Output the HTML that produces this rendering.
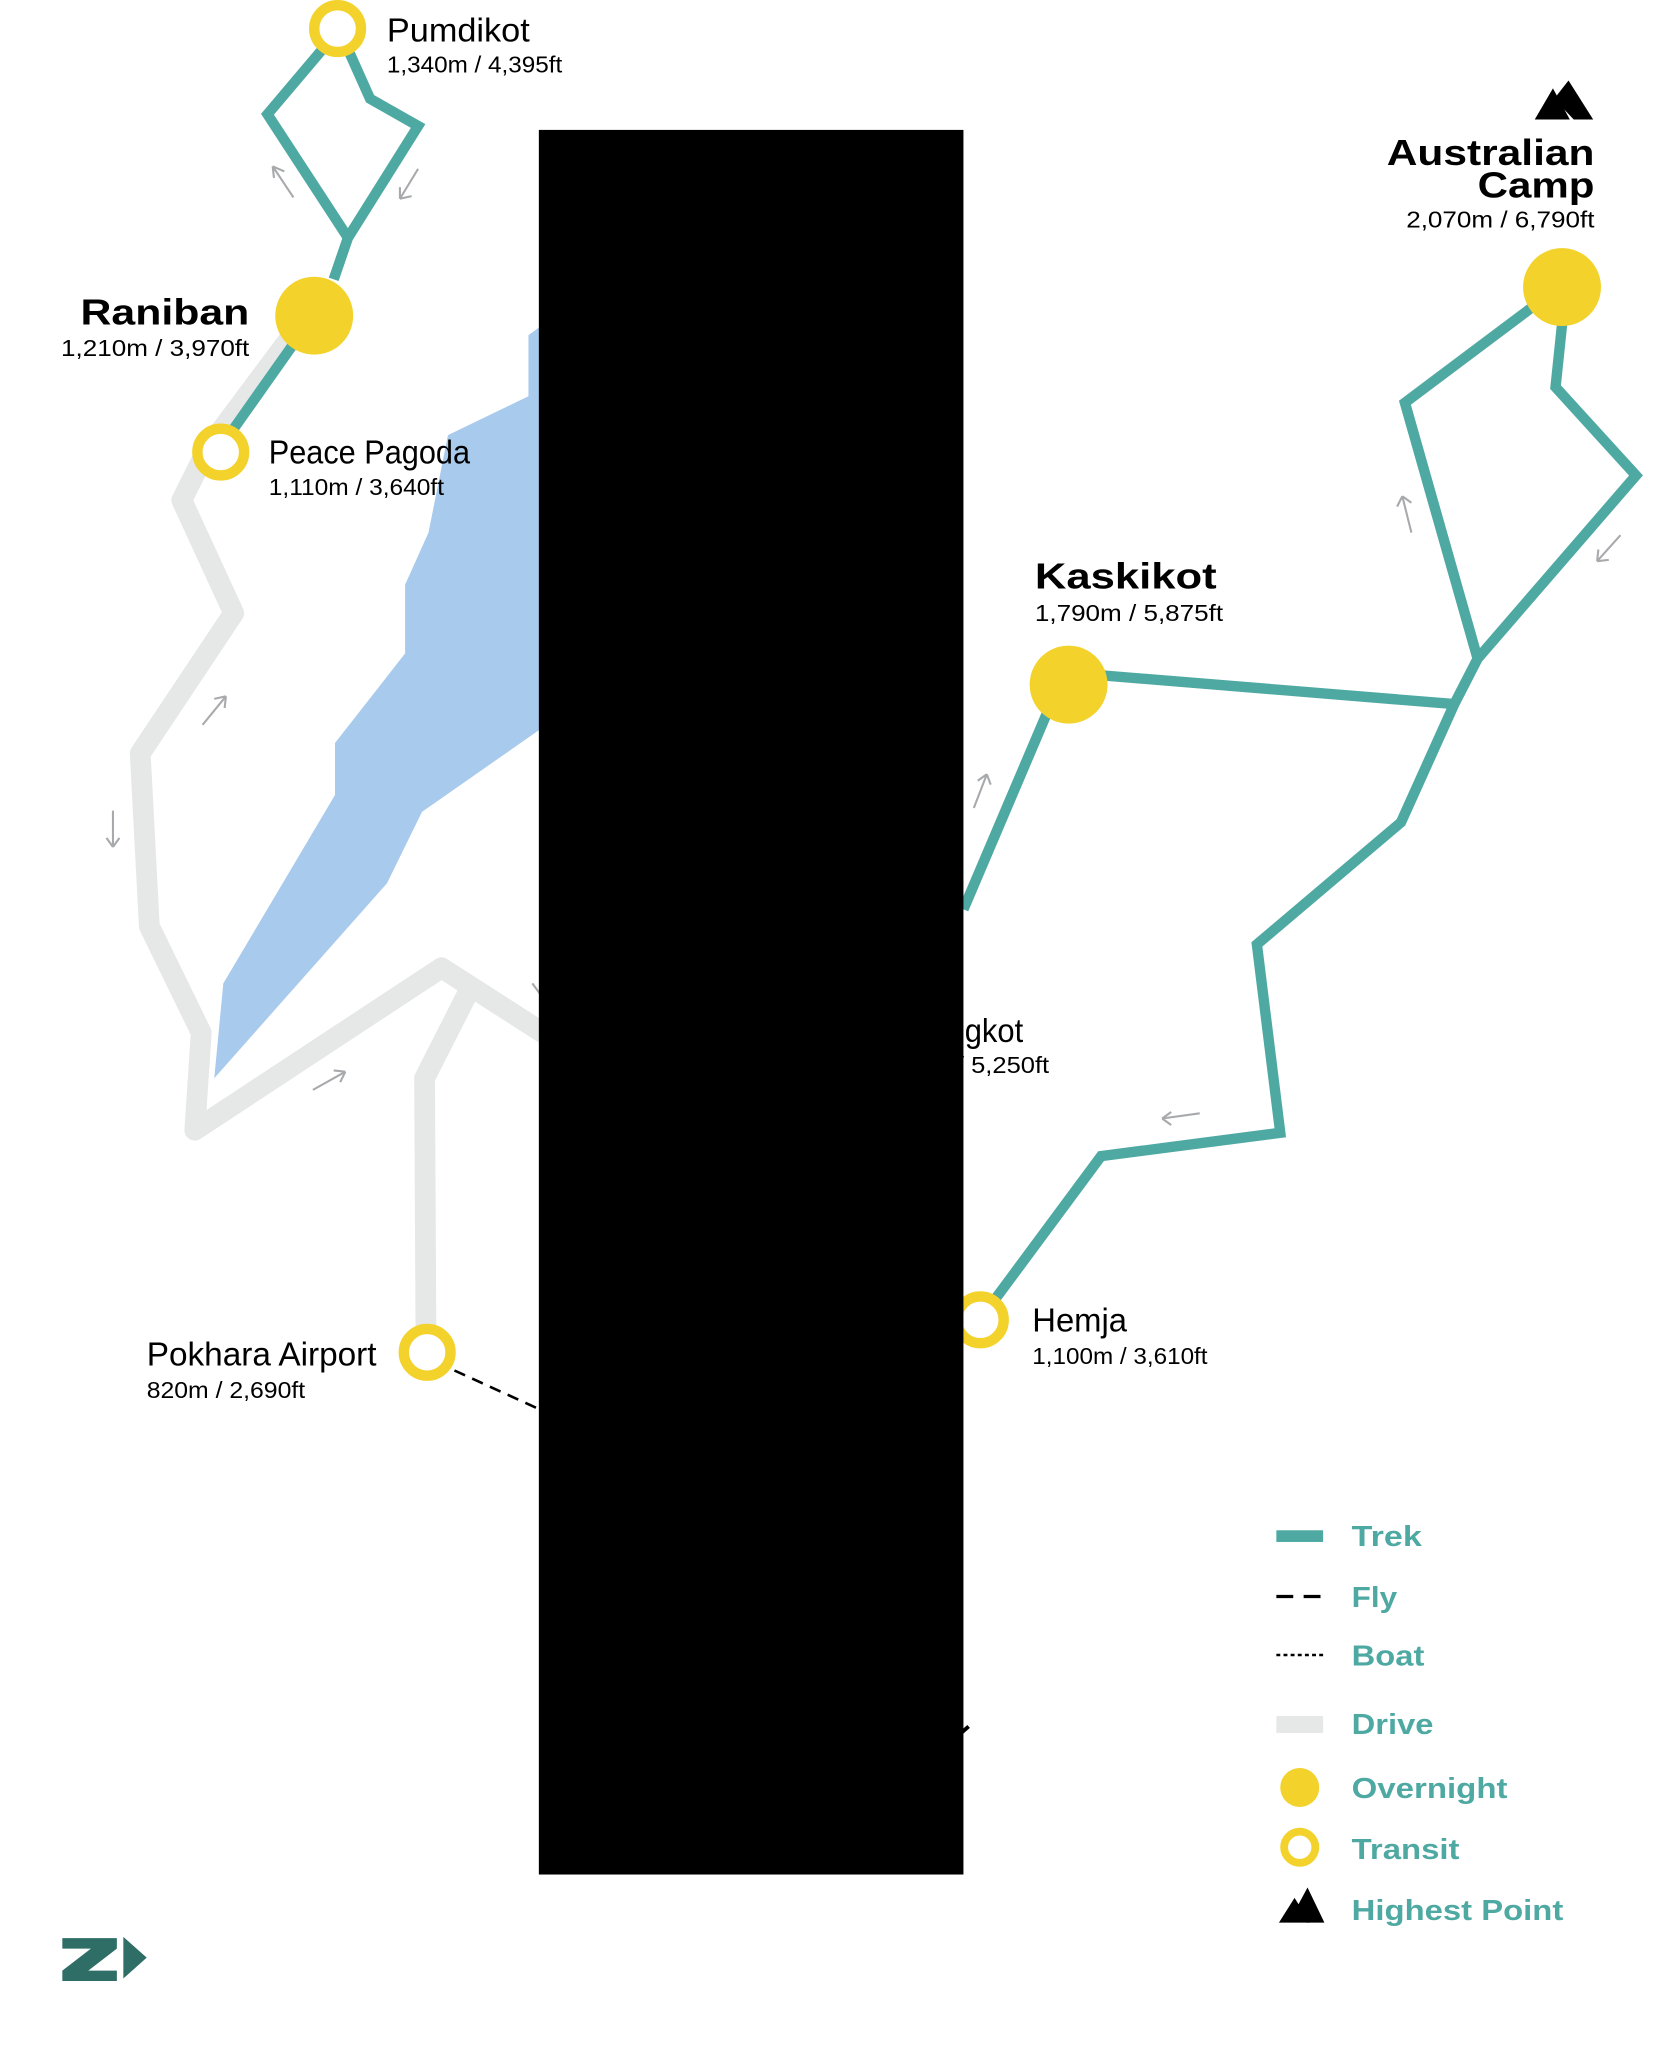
<!DOCTYPE html>
<html><head><meta charset="utf-8"><style>
html,body{margin:0;padding:0;background:#fff;}
svg{display:block;}
text{font-family:"Liberation Sans",sans-serif;}
.b{font-weight:bold;}
</style></head><body>
<svg width="1662" height="2046" viewBox="0 0 1280 1575" preserveAspectRatio="none" xmlns="http://www.w3.org/2000/svg">
<rect width="1280" height="1575" fill="#fff"/>
<polygon points="407,258 418,250 418,560 325,625 298,680 165,830 172,757 258,612 258,572 312,503 312,450 330,410 345,335 407,305" fill="#a8caec"/>
<g fill="none" stroke="#e6e7e7" stroke-width="16" stroke-linejoin="round" stroke-linecap="round">
<polyline points="222,262 160,345 140,385 180,472 108,580 115,713 155,795 150,870 340,745 418,795"/>
<polyline points="360,765 327,830 328,1020"/>
</g>
<g fill="none" stroke="#4fa9a3" stroke-width="8" stroke-linejoin="miter">
<polyline points="250,36 206,88 268,183"/>
<polyline points="268,38 285,76 322,97 268,183 257,215"/>
<polyline points="228,262 180,330"/>
<polyline points="808,545 742,700"/>
<polyline points="850,520 1120,542"/>
<polyline points="1182,235 1082,310 1138,507"/>
<polyline points="1203,250 1198,298 1260,366 1138,507 1120,542 1079,633 968,727 986,872 848,890 765,1002"/>
</g>
<g fill="none" stroke="#a7a9ac" stroke-width="1.6">
<path d="M226,152 L210,128 M210,128 l1,9 M210,128 l9,4"/>
<path d="M322,130 L308,153 M308,153 l9,-2 M308,153 l0,-9"/>
<path d="M156,558 L174,536 M174,536 l-9,2 M174,536 l-1,9"/>
<path d="M87,624 L87,652 M87,652 l-5,-7 M87,652 l5,-7"/>
<path d="M241,839 L266,825 M266,825 l-9,-1 M266,825 l-4,8"/>
<path d="M1087,410 L1080,382 M1080,382 l-4,8 M1080,382 l7,5"/>
<path d="M1248,412 L1230,432 M1230,432 l9,-1 M1230,432 l1,-9"/>
<path d="M750,622 L760,596 M760,596 l-7,5 M760,596 l3,8"/>
<path d="M924,857 L895,861 M895,861 l7,-5 M895,861 l7,5"/>
<path d="M418,768 L410,757"/>
</g>
<line x1="350" y1="1055" x2="418" y2="1086" stroke="#000" stroke-width="2" stroke-dasharray="9,6"/>
<line x1="738" y1="1336" x2="746" y2="1329" stroke="#000" stroke-width="3"/>
<g fill="#f3d22b">
<circle cx="242" cy="243" r="30"/>
<circle cx="823" cy="527" r="30"/>
<circle cx="1203" cy="221" r="30"/>
</g>
<g fill="#fff" stroke="#f3d22b" stroke-width="8">
<circle cx="260" cy="22" r="18"/>
<circle cx="170" cy="348" r="18"/>
<circle cx="329" cy="1041" r="18"/>
<circle cx="755" cy="1016" r="18"/>
</g>
<text x="298" y="32" font-size="26" textLength="110" lengthAdjust="spacingAndGlyphs">Pumdikot</text>
<text x="298" y="56" font-size="18" textLength="135" lengthAdjust="spacingAndGlyphs">1,340m / 4,395ft</text>
<text x="192" y="250" font-size="28" class="b" text-anchor="end" textLength="130" lengthAdjust="spacingAndGlyphs">Raniban</text>
<text x="192" y="274" font-size="18" text-anchor="end" textLength="145" lengthAdjust="spacingAndGlyphs">1,210m / 3,970ft</text>
<text x="207" y="357" font-size="26" textLength="155" lengthAdjust="spacingAndGlyphs">Peace Pagoda</text>
<text x="207" y="381" font-size="18" textLength="135" lengthAdjust="spacingAndGlyphs">1,110m / 3,640ft</text>
<text x="797" y="453" font-size="28" class="b" textLength="140" lengthAdjust="spacingAndGlyphs">Kaskikot</text>
<text x="797" y="478" font-size="18" textLength="145" lengthAdjust="spacingAndGlyphs">1,790m / 5,875ft</text>
<text x="1228" y="127" font-size="28" class="b" text-anchor="end" textLength="160" lengthAdjust="spacingAndGlyphs">Australian</text>
<text x="1228" y="152" font-size="28" class="b" text-anchor="end" textLength="90" lengthAdjust="spacingAndGlyphs">Camp</text>
<text x="1228" y="175" font-size="18" text-anchor="end" textLength="145" lengthAdjust="spacingAndGlyphs">2,070m / 6,790ft</text>
<polygon points="1182,92 1196,68 1209,92" fill="#000"/>
<polygon points="1197,76 1208,62 1227,92 1212,92" fill="#000"/>
<text x="743" y="802" font-size="26" textLength="45" lengthAdjust="spacingAndGlyphs">gkot</text>
<text x="737" y="826" font-size="18" textLength="71" lengthAdjust="spacingAndGlyphs">/ 5,250ft</text>
<text x="795" y="1025" font-size="26" textLength="73" lengthAdjust="spacingAndGlyphs">Hemja</text>
<text x="795" y="1050" font-size="18" textLength="135" lengthAdjust="spacingAndGlyphs">1,100m / 3,610ft</text>
<text x="290" y="1051" font-size="26" text-anchor="end" textLength="177" lengthAdjust="spacingAndGlyphs">Pokhara Airport</text>
<text x="113" y="1076" font-size="18" textLength="122" lengthAdjust="spacingAndGlyphs">820m / 2,690ft</text>
<rect x="415" y="100" width="327" height="1343" fill="#000"/>
<rect x="983" y="1178" width="36" height="9" fill="#4fa9a3"/>
<line x1="983" y1="1229" x2="1019" y2="1229" stroke="#000" stroke-width="2.5" stroke-dasharray="13,8"/>
<line x1="983" y1="1274" x2="1019" y2="1274" stroke="#000" stroke-width="2" stroke-dasharray="3,2.5"/>
<rect x="983" y="1321" width="36" height="13" fill="#e6e7e7"/>
<circle cx="1001" cy="1376" r="15" fill="#f3d22b"/>
<circle cx="1001" cy="1422" r="12" fill="#fff" stroke="#f3d22b" stroke-width="6"/>
<polygon points="985,1480 997,1461 1009,1480" fill="#000"/>
<polygon points="1000,1466 1007,1453 1020,1480 1006,1480" fill="#000"/>
<g fill="#4fa9a3" class="b" font-size="22" font-weight="bold">
<text x="1041" y="1190" textLength="54" lengthAdjust="spacingAndGlyphs">Trek</text>
<text x="1041" y="1237" textLength="35" lengthAdjust="spacingAndGlyphs">Fly</text>
<text x="1041" y="1282" textLength="56" lengthAdjust="spacingAndGlyphs">Boat</text>
<text x="1041" y="1335" textLength="63" lengthAdjust="spacingAndGlyphs">Drive</text>
<text x="1041" y="1384" textLength="120" lengthAdjust="spacingAndGlyphs">Overnight</text>
<text x="1041" y="1431" textLength="83" lengthAdjust="spacingAndGlyphs">Transit</text>
<text x="1041" y="1478" textLength="163" lengthAdjust="spacingAndGlyphs">Highest Point</text>
</g>
<polygon points="48,1492 90,1492 90,1500 68,1517 90,1517 90,1525 48,1525 48,1517 70,1500 48,1500" fill="#2e6e66"/>
<polygon points="95,1491 113,1507 95,1523" fill="#2e6e66"/>
</svg>
</body></html>
